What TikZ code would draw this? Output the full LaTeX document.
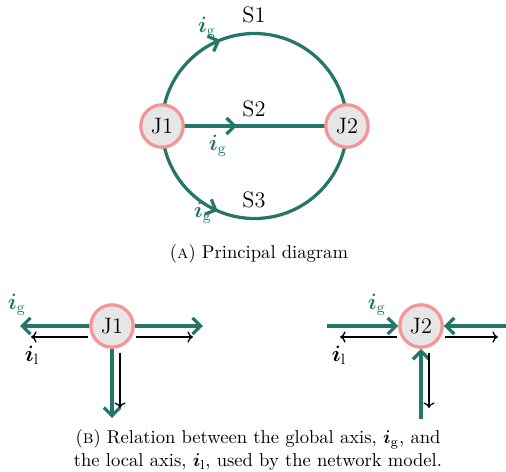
\documentclass[tikz,border=0pt]{standalone}
\usepackage{amsmath,amssymb,bm}
\usepackage{tikz}
\usetikzlibrary{arrows.meta,positioning,calc,decorations.markings,backgrounds}
\usepackage{xcolor}
\definecolor{gline}{RGB}{36,118,104}
\definecolor{jring}{RGB}{245,150,150}
\definecolor{jfill}{RGB}{230,230,230}
\tikzset{
  junction/.style = {draw=jring, fill=jfill, line width=1.75pt, circle,
                     inner sep=0pt, minimum size=22.8pt, font=\large},
  gflow/.style    = {draw=gline, line width=1.75pt},
  garrow/.style   = {gflow, -{Straight Barb[length=4.4pt,width=8.7pt]}},
  midarrow/.style = {gflow, decoration={markings,
                     mark=at position #1 with {\arrow[gline]{Straight Barb[length=4.4pt,width=8.7pt]}}},
                     postaction={decorate}},
  larrow/.style   = {-{To[length=3pt,width=6pt]}, line width=0.7pt},
  glabel/.style   = {text=gline, font=\large},
  slabel/.style   = {font=\large},
}
\newcommand{\ig}{$\boldsymbol{i}_\mathrm{g}$}
\newcommand{\il}{$\boldsymbol{i}_\mathrm{l}$}

\begin{document}
\begin{tikzpicture}[x=0.0189cm, y=0.0189cm]
\useasboundingbox (0,0) rectangle (506,471);
% ---- (a) principal diagram ----
\node[junction] (J1) at (162,345) {J1};
\node[junction] (J2) at (347,345) {J2};
\begin{scope}[on background layer]
\draw[midarrow=0.38] (J1.center) arc[start angle=180, end angle=0, radius=92.5];
\draw[midarrow=0.405] (J1.center) -- (J2.center);
\draw[midarrow=0.37] (J1.center) arc[start angle=180, end angle=360, radius=92.5];
\end{scope}
\node[slabel] (s1) at (254,456) {S1};
\node[slabel] (s2) at (254,362) {S2};
\node[slabel] (s3) at (254,271) {S3};
\node[glabel] (g1) at (207,443) {\ig};
\node[glabel] (g2) at (218,325) {\ig};
\node[glabel] (g3) at (203,258) {\ig};
\node (capa) at (259,217) {(\textsc{a}) Principal diagram};

% ---- (b) global vs local axis ----
\node[junction] (J1b) at (112,145) {J1};
\coordinate (e1l) at (20,145);
\coordinate (e1r) at (203,145);
\coordinate (e1d) at (112,53);
\draw[garrow] (J1b.west) -- (e1l);
\draw[garrow] (J1b.east) -- (e1r);
\draw[garrow] (J1b.south) -- (e1d);
\coordinate (l1l) at (31,134);
\coordinate (l1r) at (193,134);
\coordinate (l1d) at (120,63);
\draw[larrow] ($(J1b.west)+(-1,-11)$) -- (l1l);
\draw[larrow] ($(J1b.east)+(1,-11)$) -- (l1r);
\draw[larrow] ($(J1b.south)+(8,-4)$) -- (l1d);
\node[glabel] (g4) at (17,166) {\ig};
\node[slabel] (l4) at (32,116) {\il};

\node[junction] (J2b) at (421,145) {J2};
\coordinate (e2l) at (327,145);
\coordinate (e2r) at (506,145);
\coordinate (e2d) at (421,52);
\draw[garrow] (e2l) -- (J2b.west);
\draw[garrow] (e2r) -- (J2b.east);
\draw[garrow] (e2d) -- (J2b.south);
\coordinate (l2l) at (340,134);
\coordinate (l2r) at (498,134);
\coordinate (l2d) at (429,63);
\draw[larrow] ($(J2b.west)+(-1,-11)$) -- (l2l);
\draw[larrow] ($(J2b.east)+(1,-11)$) -- (l2r);
\draw[larrow] ($(J2b.south)+(8,-4)$) -- (l2d);
\node[glabel] (g5) at (377,166) {\ig};
\node[slabel] (l5) at (339,116) {\il};

\node[align=center] (capb) at (258,21) {(\textsc{b}) Relation between the global axis, \ig, and\\
  the local axis, \il, used by the network model.};
\end{tikzpicture}
\end{document}
